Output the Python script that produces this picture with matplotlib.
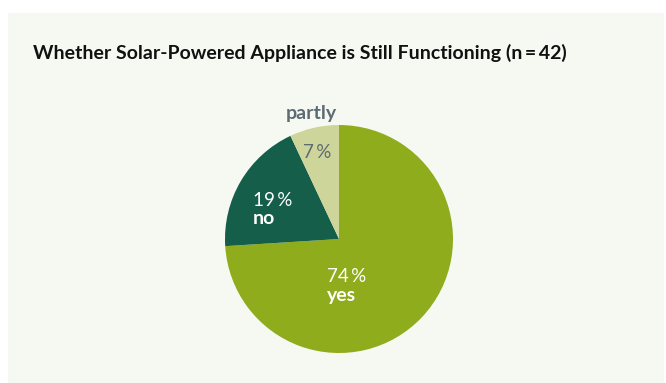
import matplotlib
matplotlib.use("Agg")
import matplotlib.pyplot as plt
from matplotlib.patches import Rectangle

categories = ["yes", "no", "partly"]
values = [74, 19, 7]
pct_labels = ["74\u2009%", "19\u2009%", "7\u2009%"]
title = "Whether Solar-Powered Appliance is Still Functioning (n\u2009=\u200942)"

colors = ["#8fac1c", "#155e4a", "#cdd59a"]
FONT = ["Lato", "DejaVu Sans"]
W, H = 666, 383
fig = plt.figure(figsize=(W / 100, H / 100), dpi=100)
fig.patch.set_facecolor("white")
fig.add_artist(Rectangle((8 / W, 0), (664 - 8) / W, (383 - 13) / H,
                         transform=fig.transFigure, facecolor="#f6f9f2",
                         edgecolor="none", zorder=0))

fig.text(33 / W, 1 - 53 / H, title, fontsize=14, fontweight="bold",
         family=FONT, color="#111111", va="center", ha="left")

cx, cy, r = 339, 239, 114
ax = fig.add_axes([(cx - r) / W, (H - cy - r) / H, 2 * r / W, 2 * r / H])
ax.pie(values, colors=colors, startangle=90, counterclock=False, radius=1,
       wedgeprops=dict(linewidth=0))
ax.set_xlim(-1, 1)
ax.set_ylim(-1, 1)
ax.set_aspect("equal")
ax.axis("off")

def px(x, y):
    return ((x - cx) / r, (cy - y) / r)

fs = 13.5
fb = 14
ax.text(*px(311, 113), categories[2], fontsize=fb, fontweight="bold",
        color="#5d6b73", ha="center", va="center", family=FONT)
ax.text(*px(317, 152), pct_labels[2], fontsize=fs, color="#5d6b73",
        ha="center", va="center", family=FONT)
ax.text(*px(253, 200), pct_labels[1], fontsize=fs, color="white",
        ha="left", va="center", family=FONT)
ax.text(*px(253, 218), categories[1], fontsize=fb, fontweight="bold", color="white",
        ha="left", va="center", family=FONT)
ax.text(*px(327, 277), pct_labels[0], fontsize=fs, color="white",
        ha="left", va="center", family=FONT)
ax.text(*px(327, 295), categories[0], fontsize=fb, fontweight="bold", color="white",
        ha="left", va="center", family=FONT)

fig.savefig("out.png", dpi=100, facecolor=fig.get_facecolor())
